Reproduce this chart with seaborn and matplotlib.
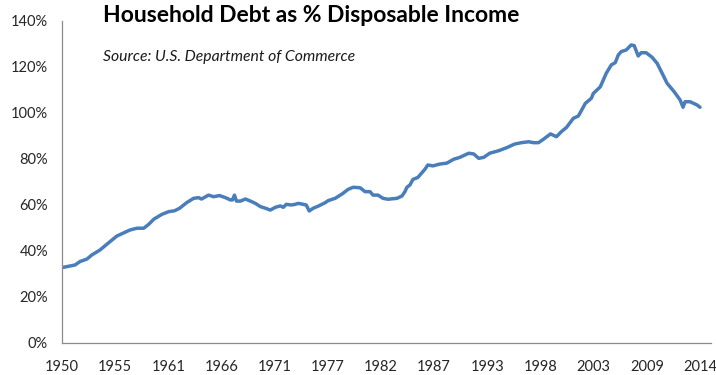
import matplotlib
matplotlib.use("Agg")
import matplotlib.pyplot as plt
import seaborn as sns
import pandas as pd
from matplotlib.ticker import FuncFormatter

# ---- data ----
years = [1950.0, 1951.3, 1951.8, 1952.5, 1953.0, 1953.8, 1954.6, 1955.5, 1956.1, 1956.8,
         1957.5, 1958.2, 1958.7, 1959.2, 1960.0, 1960.7, 1961.3, 1961.8, 1962.5, 1963.2,
         1963.7, 1964.0, 1964.7, 1965.2, 1965.8, 1966.4, 1966.9, 1967.1, 1967.3, 1967.5,
         1967.9, 1968.4, 1968.9, 1969.4, 1969.9, 1970.4, 1970.9, 1971.4, 1971.9, 1972.2,
         1972.5, 1973.0, 1973.4, 1973.7, 1974.2, 1974.5, 1974.8, 1975.2, 1975.7, 1976.4,
         1976.7, 1977.4, 1978.1, 1978.7, 1979.2, 1979.9, 1980.4, 1980.9, 1981.2, 1981.7,
         1982.2, 1982.7, 1983.6, 1984.1, 1984.4, 1984.6, 1984.9, 1985.2, 1985.7, 1986.4,
         1986.7, 1987.2, 1987.9, 1988.6, 1989.3, 1989.9, 1990.8, 1991.3, 1991.8, 1992.3,
         1992.9, 1993.8, 1994.6, 1995.4, 1996.1, 1996.8, 1997.3, 1997.8, 1998.3, 1999.0,
         1999.6, 2000.1, 2000.6, 2001.3, 2001.8, 2002.5, 2003.1, 2003.3, 2004.0, 2004.6,
         2005.1, 2005.5, 2005.8, 2006.1, 2006.6, 2007.1, 2007.4, 2007.8, 2008.1, 2008.6,
         2009.2, 2009.7, 2010.2, 2010.7, 2011.4, 2012.0, 2012.3, 2012.5, 2013.0, 2013.7,
         2014.0]
debt_pct = [32.8, 33.9, 35.4, 36.5, 38.3, 40.4, 43.3, 46.5, 47.7, 49.1,
            49.9, 49.9, 51.6, 53.8, 55.9, 57.1, 57.5, 58.6, 61.0, 62.9,
            63.2, 62.6, 64.3, 63.6, 64.1, 63.2, 62.2, 62.2, 64.3, 61.7,
            61.7, 62.6, 61.7, 60.7, 59.3, 58.6, 57.8, 59.0, 59.6, 59.0,
            60.3, 60.0, 60.3, 60.7, 60.3, 60.0, 57.4, 58.6, 59.5, 61.0,
            61.9, 62.9, 64.8, 66.8, 67.7, 67.5, 65.8, 65.8, 64.3, 64.3,
            62.9, 62.5, 62.9, 63.9, 65.8, 67.7, 68.7, 71.1, 72.0, 75.5,
            77.4, 77.0, 77.8, 78.2, 79.9, 80.7, 82.5, 82.2, 80.3, 80.7,
            82.5, 83.6, 84.9, 86.5, 87.1, 87.5, 87.1, 87.1, 88.6, 90.9,
            89.7, 91.9, 93.7, 97.7, 98.7, 104.2, 106.4, 108.5, 111.4, 117.3,
            120.9, 121.9, 125.2, 126.7, 127.4, 129.6, 129.3, 124.8, 126.2, 126.2,
            124.2, 121.6, 117.3, 112.9, 109.3, 105.7, 102.5, 104.9, 104.9, 103.5,
            102.5]
tick_labels = ["1950", "1955", "1961", "1966", "1971", "1977", "1982",
               "1987", "1993", "1998", "2003", "2009", "2014"]
y_ticks = [0, 20, 40, 60, 80, 100, 120, 140]

df = pd.DataFrame({"year": years, "debt": debt_pct})

sns.set_style("white")
plt.rcParams["font.family"] = ["Lato", "DejaVu Sans"]

fig = plt.figure(figsize=(7.16, 3.75), dpi=100)
ax = fig.add_axes([62 / 716, 1 - 343 / 375, (711 - 62) / 716, (343 - 21) / 375])

sns.lineplot(data=df, x="year", y="debt", ax=ax, color="#4a7ebb", linewidth=2.5)

ax.set_xlim(1950, 1950 + (711 - 62) / 638 * 64)
ax.set_ylim(0, 140)
xt = [1950 + i * 64 / 12 for i in range(len(tick_labels))]
ax.set_xticks(xt)
ax.set_xticklabels(tick_labels)
ax.set_yticks(y_ticks)
ax.yaxis.set_major_formatter(FuncFormatter(lambda v, p: f"{v:.0f}%"))
ax.set_xlabel("")
ax.set_ylabel("")

for s in ["top", "right"]:
    ax.spines[s].set_visible(False)
for s in ["left", "bottom"]:
    ax.spines[s].set_color("#8c8c8c")
    ax.spines[s].set_linewidth(0.9)

ax.tick_params(axis="both", which="major", direction="out", length=4, width=0.9,
               color="#8c8c8c", labelcolor="#262626", labelsize=10.5)
ax.tick_params(axis="x", pad=8, labelsize=10.5)
ax.tick_params(axis="y", pad=6)
ax.grid(False)

fig.text(103 / 716, 1 - 15 / 375, "Household Debt as % Disposable Income",
         fontsize=16.5, fontweight="bold", color="black", ha="left", va="center")
fig.text(103 / 716, 1 - 57 / 375, "Source: U.S. Department of Commerce",
         fontsize=11.3, fontstyle="italic", color="#1a1a1a", ha="left", va="center")

fig.savefig("out.png", dpi=100)
